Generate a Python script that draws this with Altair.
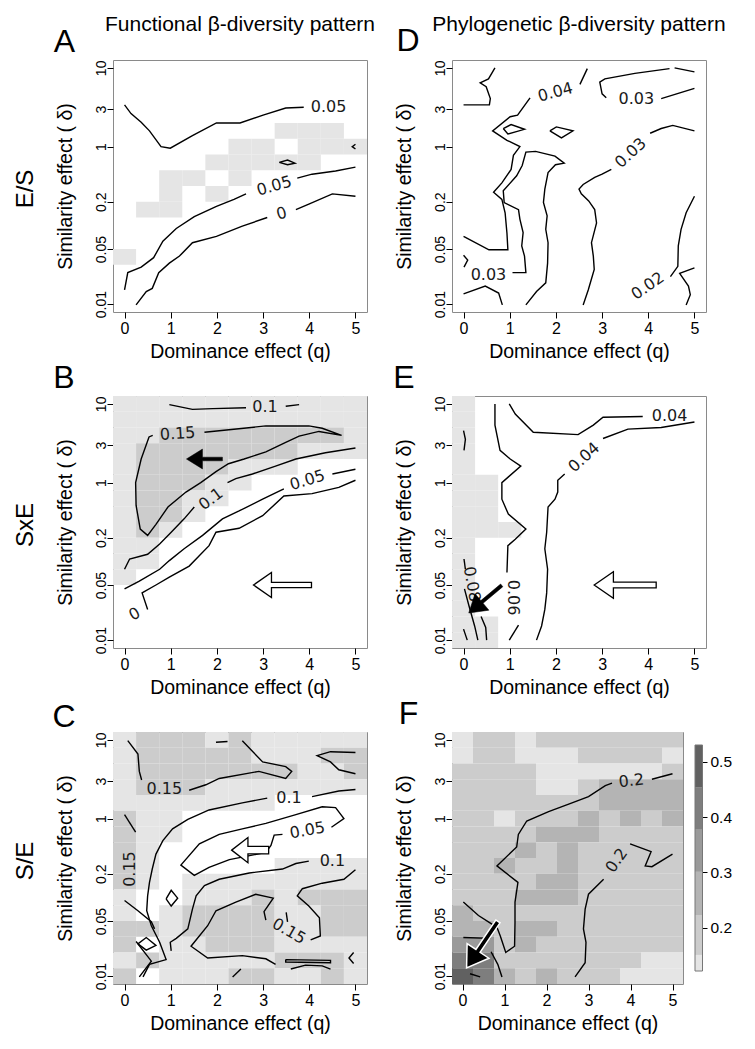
import altair as alt
import pandas as pd

FONT = "Liberation Sans"
LABEL_FONT = "DejaVu Sans"

# grid of the shaded cells: q (columns) and log10(delta) (rows, top to bottom)
Q_COLS = [0, 0.5, 1, 1.5, 2, 2.5, 3, 3.5, 4, 4.5, 5]
LOGD_ROWS = [1.0, 0.8, 0.6, 0.4, 0.2, 0.0, -0.2, -0.4, -0.6, -0.8, -1.0, -1.2, -1.4, -1.6, -1.8, -2.0]
LEVEL_COLORS = ["#e5e5e5", "#cccccc", "#b4b4b4", "#9a9a9a", "#7e7e7e", "#616161"]
CBAR_BREAKS = [0.122, 0.151, 0.223, 0.301, 0.377, 0.453, 0.530]
CBAR_TICKS = [0.2, 0.3, 0.4, 0.5]
X_TICKS = [0, 1, 2, 3, 4, 5]
Y_TICKS = [0.01, 0.05, 0.2, 1, 3, 10]

A_GRID = ["00000000000", "00000000000", "00000000000", "00000000000",
          "00000001110", "00000110111", "00001111100", "00110100000",
          "00101000000", "01100000000", "00000000000", "00000000000",
          "10000000000", "00000000000", "00000000000", "00000000000"]
B_GRID = ["11111111111", "11111111111", "11222222221", "12222222111",
          "12222111000", "12221100000", "12211000000", "12210000000",
          "12100000000", "11000000000", "11000000000", "10000000000",
          "00000000000", "00000000000", "00000000000", "00000000000"]
C_GRID = ["12221211111", "12222211122", "12222222112", "12221111111",
          "11111110000", "21100000000", "21100000000", "21000000000",
          "21000001111", "21011111111", "10011121222", "10122221122",
          "22122221122", "20112221111", "12111112221", "20111221121"]
D_GRID = ["00000000000"] * 16
E_GRID = ["10000000000"] * 5 + ["11000000000"] * 3 + ["11100000000"] + \
         ["10000000000"] * 5 + ["11000000000"] * 2
F_GRID = ["12212222222", "12211122221", "22221111112", "22221123333",
          "22222223333", "22122232323", "22223332222", "22232322222",
          "22322322222", "22223322222", "22233322222", "32222222222",
          "33233222222", "44232222222", "55222222211", "65323222111"]

# contour lines: (q, log10 delta)
A_LINES = [
    [(0, 0.53), (0.14, 0.42), (0.36, 0.31), (0.54, 0.20), (0.79, 0.0), (0.99, -0.02), (1.47, 0.14),
     (1.99, 0.30), (2.50, 0.30), (3.0, 0.40), (3.49, 0.49), (3.88, 0.50)],
    [(0, -1.82), (0.07, -1.60), (0.36, -1.53), (0.63, -1.41), (0.83, -1.20), (1.12, -1.04), (1.51, -0.89),
     (1.99, -0.76), (2.37, -0.67), (2.63, -0.60)],
    [(3.74, -0.40), (4.06, -0.35), (4.57, -0.31), (5.0, -0.26)],
    [(0.25, -2.01), (0.47, -1.84), (0.60, -1.80), (0.74, -1.60), (0.97, -1.48), (1.19, -1.39), (1.47, -1.22),
     (1.99, -1.14), (2.55, -1.01), (3.09, -0.90)],
    [(3.71, -0.80), (3.99, -0.73), (4.50, -0.60), (5.0, -0.63)],
    [(3.35, -0.20), (3.53, -0.17), (3.69, -0.21), (3.53, -0.23), (3.35, -0.20)],
    [(5.0, 0.03), (4.93, 0.0), (5.0, -0.03)],
]
A_LABELS = [("0.05", 4.42, 0.50, 0), ("0.05", 3.24, -0.50, 344), ("0", 3.40, -0.85, 345)]

B_LINES = [
    [(0.97, 0.99), (1.47, 0.93), (1.91, 0.94), (2.63, 0.95)],
    [(3.49, 0.97), (3.78, 0.99)],
    [(1.73, 0.64), (3.06, 0.72), (3.99, 0.72), (4.28, 0.69), (4.70, 0.60), (4.21, 0.65), (3.78, 0.59),
     (3.49, 0.51), (3.06, 0.39), (2.59, 0.30), (2.25, 0.24), (1.98, 0.14), (1.65, 0.0), (1.33, -0.12),
     (0.94, -0.31), (0.68, -0.53), (0.50, -0.67), (0.34, -0.59), (0.25, -0.29), (0.24, 0.0), (0.36, 0.30),
     (0.53, 0.58), (0.61, 0.60)],
    [(0, -1.10), (0.11, -0.97), (0.50, -0.91), (0.76, -0.78), (1.01, -0.63), (1.29, -0.46), (1.51, -0.31)],
    [(2.23, 0.0), (2.41, 0.05), (2.77, 0.11), (3.27, 0.21), (3.71, 0.30), (4.35, 0.38), (5.0, 0.44)],
    [(0, -1.35), (0.32, -1.25), (0.76, -1.10), (0.97, -0.99), (1.29, -0.84), (1.69, -0.67), (2.12, -0.46),
     (2.48, -0.36), (2.99, -0.21), (3.45, -0.08)],
    [(4.5, 0.11), (5.0, 0.17)],
    [(0.50, -1.61), (0.38, -1.40), (0.68, -1.30), (0.97, -1.20), (1.40, -1.06), (1.83, -0.80), (1.98, -0.63),
     (2.48, -0.58), (2.99, -0.42), (3.45, -0.17), (4.06, -0.14), (4.64, -0.06), (5.0, 0.03)],
]
B_LABELS = [("0.1", 3.04, 0.96, 0), ("0.15", 1.15, 0.62, 356), ("0.1", 1.87, -0.21, 323),
            ("0.05", 3.96, 0.03, 343), ("0", 0.22, -1.67, 330)]

C_LINES = [
    [(0.07, 0.99), (0.29, 0.82), (0.32, 0.60), (0.37, 0.49)],
    [(1.40, 0.36), (1.76, 0.43), (2.05, 0.51), (2.91, 0.60), (3.49, 0.51), (3.62, 0.60), (3.49, 0.66),
     (2.99, 0.72), (2.55, 0.99)],
    [(1.98, 0.97), (2.23, 0.98)],
    [(5.0, 0.84), (4.46, 0.85), (4.17, 0.80), (4.46, 0.72), (4.64, 0.62), (5.0, 0.57)],
    [(5.0, 0.37), (4.64, 0.35), (4.06, 0.28)],
    [(3.09, 0.26), (2.55, 0.20), (1.83, 0.11), (1.37, -0.01), (1.04, -0.13), (0.83, -0.28), (0.68, -0.45),
     (0.60, -0.64), (0.54, -0.81), (0.50, -0.98), (0.48, -1.17), (0.58, -1.36), (0.76, -1.57), (0.90, -1.79),
     (0.54, -1.85), (0.40, -2.01)],
    [(3.42, -0.20), (3.24, -0.21), (3.17, -0.34), (3.06, -0.43), (2.27, -0.52), (1.83, -0.62), (1.51, -0.72),
     (1.22, -0.59), (1.62, -0.32), (2.05, -0.20), (2.55, -0.13), (3.06, -0.06), (3.71, 0.05), (4.28, 0.15),
     (4.57, 0.14), (4.75, 0.0), (4.48, -0.11)],
    [(3.99, -0.54), (3.71, -0.57), (3.42, -0.64), (2.70, -0.69), (2.05, -0.77), (1.73, -0.85), (1.55, -0.98),
     (1.47, -1.15), (1.37, -1.40), (1.12, -1.52), (0.99, -1.57), (1.01, -1.68)],
    [(3.06, -1.29), (3.02, -1.18), (3.22, -1.01), (2.84, -0.96), (2.41, -1.06), (1.98, -1.17), (1.80, -1.36),
     (1.44, -1.62), (1.80, -1.77), (2.55, -1.74), (3.06, -1.78), (3.27, -1.85)],
    [(2.34, -2.01), (2.52, -1.91)],
    [(4.03, -1.54), (4.24, -1.49), (4.22, -1.26), (3.99, -1.11), (3.74, -0.98), (3.85, -0.89), (4.28, -0.82),
     (4.75, -0.77), (5.0, -0.65)],
    [(3.50, -1.19), (3.53, -1.31)],
    [(3.49, -1.79), (4.46, -1.80), (4.46, -1.83), (3.49, -1.82), (3.49, -1.79)],
    [(4.96, -1.70), (4.86, -1.77), (4.96, -1.84)],
    [(3.60, -1.91), (3.92, -1.86), (4.28, -1.87), (4.46, -1.91)],
    [(0, 0.05), (0.24, -0.17)],
    [(0, -1.04), (0.29, -1.17), (0.58, -1.31), (0.65, -1.40)],
    [(0.29, -1.59), (0.47, -1.51), (0.68, -1.61), (0.47, -1.67), (0.29, -1.59)],
    [(0.90, -1.02), (1.01, -0.91), (1.15, -1.01), (1.01, -1.11), (0.90, -1.02)],
    [(0.25, -1.56), (0.58, -1.81), (0.32, -2.01)],
]
C_LABELS = [("0.15", 0.86, 0.37, 0), ("0.1", 3.56, 0.26, 0), ("0.05", 3.96, -0.15, 350),
            ("0.1", 4.50, -0.54, 0), ("0.15", 0.12, -0.64, 270), ("0.15", 3.56, -1.43, 30)]

D_LINES = [
    [(0.68, 1.0), (0.54, 0.86), (0.36, 0.81), (0.49, 0.76), (0.58, 0.61), (0.56, 0.53), (0.0, 0.53)],
    [(2.52, 0.79), (2.68, 0.99)],
    [(1.44, 0.62), (1.17, 0.40), (1.01, 0.38), (0.63, 0.20), (0.94, 0.08), (1.22, 0.0), (1.08, -0.11),
     (1.03, -0.29), (0.83, -0.46), (0.65, -0.58), (0.83, -0.67), (0.90, -0.84), (0.94, -1.10), (0.96, -1.31),
     (0.55, -1.31), (0.0, -1.14)],
    [(0.86, 0.23), (1.03, 0.28), (1.32, 0.22), (0.96, 0.16), (0.86, 0.23)],
    [(1.87, 0.20), (2.01, 0.25), (2.37, 0.20), (2.12, 0.11), (1.87, 0.20)],
    [(1.06, -1.60), (1.35, -1.60), (1.32, -1.39), (1.26, -1.26), (1.29, -1.09), (1.22, -0.92), (1.19, -0.80),
     (0.88, -0.71), (0.86, -0.56), (1.15, -0.37), (1.27, -0.24), (1.35, -0.07), (1.56, -0.06), (1.98, -0.12),
     (2.18, -0.21), (1.99, -0.23), (1.83, -0.33), (1.76, -0.54), (1.73, -0.71), (1.81, -0.88), (1.78, -1.05),
     (1.83, -1.22), (1.82, -1.48), (1.78, -1.73), (1.58, -1.84), (1.35, -2.01)],
    [(2.59, -2.01), (2.70, -1.82), (2.83, -1.56), (2.81, -1.39), (2.77, -1.22), (2.88, -0.97), (2.84, -0.80),
     (2.71, -0.69), (2.55, -0.60), (2.50, -0.54), (2.59, -0.48), (2.84, -0.39), (3.0, -0.35), (3.2, -0.29)],
    [(4.04, 0.17), (4.28, 0.23), (4.53, 0.27), (5.0, 0.20)],
    [(4.46, 0.99), (3.71, 0.93), (3.06, 0.86), (2.95, 0.82), (3.0, 0.67), (3.09, 0.62)],
    [(4.28, 0.61), (5.0, 0.74)],
    [(4.57, 1.0), (5.0, 0.95)],
    [(5.0, -0.63), (4.82, -0.84), (4.71, -1.05), (4.65, -1.26), (4.64, -1.52), (4.48, -1.65)],
    [(5.0, -1.54), (4.68, -1.61), (4.87, -1.77), (4.91, -1.88), (4.82, -2.01)],
    [(0, -1.87), (0.47, -1.77), (0.76, -1.86), (0.84, -2.01)],
    [(0, -1.38), (0.09, -1.44), (0.01, -1.53)],
]
D_LABELS = [("0.04", 1.99, 0.69, 345), ("0.03", 3.74, 0.60, 0), ("0.03", 3.62, -0.08, 317),
            ("0.03", 0.54, -1.63, 0), ("0.02", 3.99, -1.77, 325)]

E_LINES = [
    [(0.68, 1.0), (0.68, 0.73), (0.79, 0.41), (1.01, 0.30), (1.24, 0.21), (0.83, 0.0), (0.83, -0.21),
     (0.97, -0.40), (1.35, -0.59), (1.12, -0.72), (0.96, -0.80), (0.94, -1.14)],
    [(1.19, -1.81), (0.99, -2.0)],
    [(0.99, 1.0), (1.12, 0.87), (1.51, 0.64), (2.48, 0.61), (2.81, 0.73), (3.02, 0.83), (3.88, 0.84)],
    [(5.0, 0.77), (4.28, 0.70), (3.56, 0.68), (3.02, 0.56)],
    [(2.19, 0.11), (2.04, 0.03), (2.04, -0.12), (1.98, -0.21), (1.83, -0.31), (1.80, -0.63), (1.76, -0.84),
     (1.82, -1.10), (1.80, -1.40), (1.76, -1.61), (1.69, -1.82), (1.58, -2.0)],
    [(0, 0.66), (0.04, 0.55), (0.01, 0.41)],
    [(0.01, -0.97), (0.04, -1.10)],
    [(0.02, -1.35), (0.12, -1.57), (0.24, -1.82), (0.31, -2.0)],
    [(0.38, -1.70), (0.48, -1.84), (0.50, -2.0)],
    [(0, -1.86), (0.08, -2.0)],
]
E_LABELS = [("0.04", 4.46, 0.84, 0), ("0.04", 2.61, 0.32, 318), ("0.06", 1.08, -1.46, 90),
            ("0.08", 0.18, -1.29, 80)]

F_LINES = [
    [(5.0, 0.57), (4.51, 0.50)],
    [(3.56, 0.45), (3.40, 0.42), (3.0, 0.28), (2.56, 0.19), (2.05, 0.09), (1.53, -0.03), (1.33, -0.20),
     (1.29, -0.36), (0.82, -0.60), (1.32, -0.81), (1.25, -1.06), (1.25, -1.32), (1.24, -1.62), (1.03, -1.70),
     (0.90, -1.49), (0.82, -1.38), (0.38, -1.23), (0.02, -1.06)],
    [(2.68, -2.01), (2.92, -1.83), (2.94, -1.57), (2.88, -1.40), (2.92, -1.15), (3.0, -0.96), (3.36, -0.77)],
    [(3.99, -0.32), (4.49, -0.42), (4.35, -0.60), (4.51, -0.61), (5.0, -0.45)],
    [(0.02, -1.51), (0.66, -1.52)],
    [(0.68, -1.69), (0.84, -1.85), (0.94, -2.01)],
    [(0.18, -1.97), (0.42, -2.01)],
]
F_LABELS = [("0.2", 4.02, 0.48, 354), ("0.2", 3.67, -0.53, 305)]

# arrows: panel, q, log10 delta (centre), style, angle, length in px
ARROWS = [
    ("B", 1.73, 0.30, "solidB", 0, 36),
    ("B", 3.42, -1.30, "hollow", 0, 58),
    ("E", 0.47, -1.48, "solidE", 320, 43),
    ("E", 3.50, -1.30, "hollow", 0, 62),
    ("C", 2.72, -0.40, "hollowC", 0, 37),
    ("F", 0.47, -1.60, "solidF", 304, 56),
]
ARROW_SHAPES = {
    "hollow": ("M-1,0 L-0.38,-0.43 L-0.38,-0.09 L1,-0.09 L1,0.09 L-0.38,0.09 L-0.38,0.43 Z", "white", "black", 1.3),
    "hollowC": ("M-1,0 L-0.12,-0.68 L-0.12,-0.2 L1,-0.2 L1,0.2 L-0.12,0.2 L-0.12,0.68 Z", "white", "black", 1.3),
    "solidB": ("M-1,0 L-0.11,-0.55 L-0.11,-0.1 L1,-0.1 L1,0.1 L-0.11,0.1 L-0.11,0.55 Z", "black", "black", 0.5),
    "solidE": ("M-1,0 L-0.2,-0.5 L-0.2,-0.08 L1,-0.08 L1,0.08 L-0.2,0.08 L-0.2,0.5 Z", "black", "black", 0.5),
    "solidF": ("M-1,0 L-0.27,-0.47 L-0.27,-0.09 L1,-0.09 L1,0.09 L-0.27,0.09 L-0.27,0.47 Z", "black", "white", 1.5),
}

PANELS = {
    "A": (A_GRID, A_LINES, A_LABELS), "B": (B_GRID, B_LINES, B_LABELS), "C": (C_GRID, C_LINES, C_LABELS),
    "D": (D_GRID, D_LINES, D_LABELS), "E": (E_GRID, E_LINES, E_LABELS), "F": (F_GRID, F_LINES, F_LABELS),
}
LETTER_POS = {"A": (-48.5, -8), "B": (-49, -8), "C": (-49, -5), "D": (-44, -9), "E": (-48, -8), "F": (-43.5, -8)}
COL_TITLES = {"A": "Functional β-diversity pattern", "D": "Phylogenetic β-diversity pattern"}
ROW_LABELS = {"A": "E/S", "B": "SxE", "C": "S/E"}

H = 252
X_SCALE = alt.Scale(domain=[-0.25, 5.25], nice=False, zero=False)
Y_SCALE = alt.Scale(type="log", domain=[10 ** -2.1, 10 ** 1.1], nice=False)
COLOR_SCALE = alt.Scale(domain=[1, 2, 3, 4, 5, 6], range=LEVEL_COLORS)


def axes(width):
    xa = alt.Axis(values=X_TICKS, format="d", title="Dominance effect (q)", grid=False, domain=False,
                  tickSize=6, tickColor="black", tickWidth=1, labelFont=FONT, labelFontSize=16,
                  labelColor="black", labelPadding=2, labelFlush=False, titleFont=FONT, titleFontSize=19.5,
                  titleFontWeight="normal", titleColor="black", titleX=width / 2, titleY=45,
                  titleAlign="center", titleBaseline="alphabetic")
    ya = alt.Axis(values=Y_TICKS, format="~g", title="Similarity effect ( δ)", grid=False, domain=False,
                  tickSize=6, tickColor="black", tickWidth=1, labelFont=FONT, labelFontSize=14,
                  labelColor="black", labelAngle=270, labelAlign="center", labelBaseline="alphabetic",
                  labelPadding=2, labelFlush=False, titleFont=FONT, titleFontSize=19.5,
                  titleFontWeight="normal", titleColor="black", titleX=-41.5, titleY=H / 2,
                  titleAngle=270, titleAlign="center", titleBaseline="alphabetic")
    return xa, ya


def panel(key, width):
    grid, lines, labels = PANELS[key]
    xa, ya = axes(width)
    X = lambda f: alt.X(f, scale=X_SCALE, axis=xa)
    Y = lambda f: alt.Y(f, scale=Y_SCALE, axis=ya)
    layers = []

    cells = []
    for r, row in enumerate(grid):
        l = LOGD_ROWS[r]
        for c, ch in enumerate(row):
            if ch != "0":
                q = Q_COLS[c]
                cells.append(dict(q0=q - 0.25, q1=q + 0.25, d0=10 ** (l - 0.1), d1=10 ** (l + 0.1), level=int(ch)))
    if cells:
        layers.append(alt.Chart(pd.DataFrame(cells)).mark_rect(strokeWidth=0).encode(
            x=X("q0:Q"), x2="q1", y=Y("d0:Q"), y2="d1",
            color=alt.Color("level:O", scale=COLOR_SCALE, legend=None)))

    pts = []
    for s, seg in enumerate(lines):
        for i, (q, l) in enumerate(seg):
            pts.append(dict(seg=s, i=i, q=q, d=10 ** l))
    layers.append(alt.Chart(pd.DataFrame(pts)).mark_line(color="black", strokeWidth=1.4).encode(
        x=X("q:Q"), y=Y("d:Q"), detail="seg:N", order="i:Q"))

    lab = pd.DataFrame([dict(t=t, q=q, d=10 ** l, ang=a) for (t, q, l, a) in labels])
    layers.append(alt.Chart(lab).mark_text(font=LABEL_FONT, fontSize=16, color="#1a1a1a",
                                           align="center", baseline="middle").encode(
        x=X("q:Q"), y=Y("d:Q"), text="t:N", angle=alt.Angle("ang:Q", scale=None)))

    for (pk, q, l, style, ang, length) in ARROWS:
        if pk != key:
            continue
        path, fill, stroke, sw = ARROW_SHAPES[style]
        layers.append(alt.Chart(pd.DataFrame([dict(q=q, d=10 ** l)])).mark_point(
            shape=path, size=length * length, angle=ang, filled=True, fill=fill, stroke=stroke,
            strokeWidth=sw, opacity=1).encode(x=X("q:Q"), y=Y("d:Q")))

    dx, dy = LETTER_POS[key]
    layers.append(alt.Chart(pd.DataFrame({"t": [key]})).mark_text(
        font=FONT, fontSize=32, align="center", baseline="alphabetic", color="black").encode(
        text="t:N", x=alt.value(dx), y=alt.value(dy)))
    if key in COL_TITLES:
        layers.append(alt.Chart(pd.DataFrame({"t": [COL_TITLES[key]]})).mark_text(
            font=FONT, fontSize=21, align="center", baseline="alphabetic", color="black").encode(
            text="t:N", x=alt.value(width / 2), y=alt.value(-29)))
    if key in ROW_LABELS:
        layers.append(alt.Chart(pd.DataFrame({"t": [ROW_LABELS[key]]})).mark_text(
            font=FONT, fontSize=24, angle=270, align="center", baseline="middle", color="black").encode(
            text="t:N", x=alt.value(-87), y=alt.value(H / 2 + 3)))

    return alt.layer(*layers).properties(width=width, height=H)


W = 254
WF = 231
pA, pB, pC, pD, pE = (panel(k, W) for k in "ABCDE")
pF_main = panel("F", WF)

bands = pd.DataFrame([dict(lo=CBAR_BREAKS[i], hi=CBAR_BREAKS[i + 1], level=i + 1) for i in range(6)])
span = CBAR_BREAKS[-1] - CBAR_BREAKS[0]
pxper = 226 / span
cb_scale = alt.Scale(domain=[CBAR_BREAKS[0] - 13 / pxper, CBAR_BREAKS[-1] + 13 / pxper], nice=False, zero=False)
cb_axis = alt.Axis(orient="right", values=CBAR_TICKS, format=".1f", title=None, grid=False, domain=False,
                   offset=19, tickSize=5, tickColor="black", labelFont=FONT, labelFontSize=15.5,
                   labelColor="black", labelPadding=3)
cbar = alt.Chart(bands).mark_rect(strokeWidth=0).encode(
    x=alt.value(WF + 12), x2=alt.value(WF + 19.5),
    y=alt.Y("lo:Q", scale=cb_scale, axis=cb_axis), y2="hi",
    color=alt.Color("level:O", scale=COLOR_SCALE, legend=None))
cframe = alt.Chart(pd.DataFrame([dict(lo=CBAR_BREAKS[0], hi=CBAR_BREAKS[-1])])).mark_rect(
    fillOpacity=0, stroke="#777", strokeWidth=1).encode(
    x=alt.value(WF + 12), x2=alt.value(WF + 19.5), y=alt.Y("lo:Q", scale=cb_scale, axis=cb_axis), y2="hi")
pF = alt.layer(pF_main, alt.layer(cbar, cframe)).resolve_scale(y="independent").resolve_axis(y="independent")

chart = alt.concat(pA, pD, pB, pE, pC, pF, columns=2, spacing={"row": 84, "column": 85}, bounds="flush")
chart = chart.configure_view(stroke="#8a8a8a", strokeWidth=1).properties(
    padding={"left": 5, "top": 5, "right": 5, "bottom": 5})

chart.save("out.html", embed_options={"renderer": "svg", "actions": False})
